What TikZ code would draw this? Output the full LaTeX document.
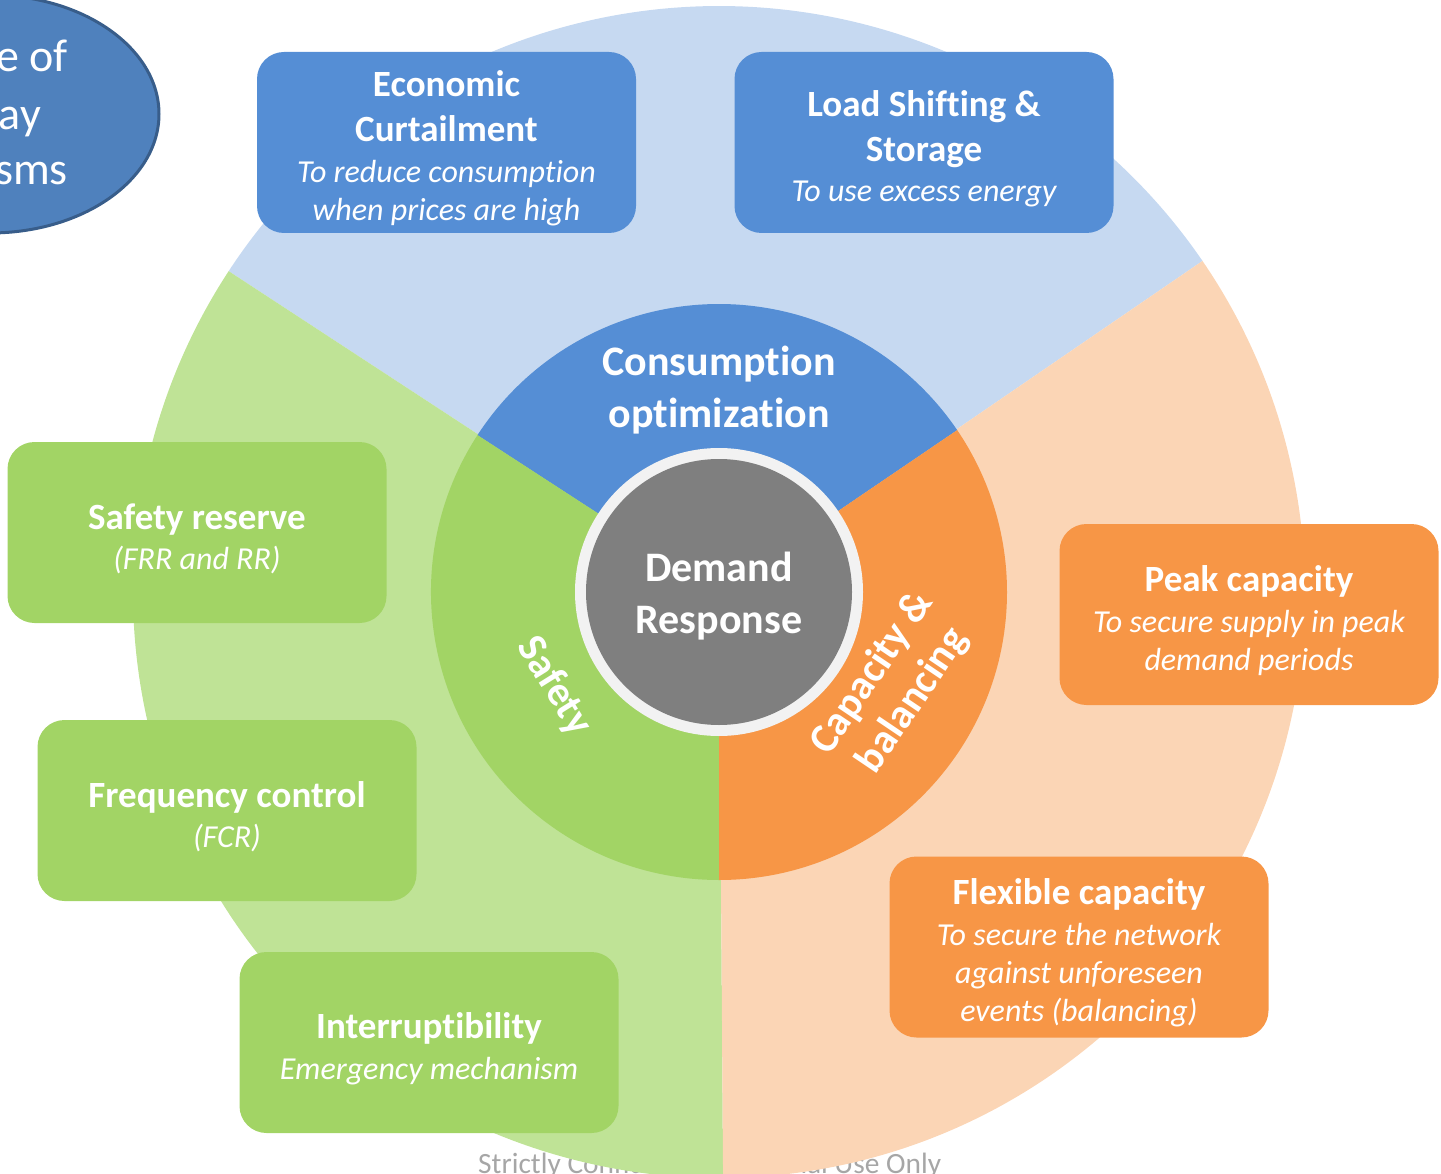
\documentclass[tikz,border=0pt]{standalone}
\usepackage{fontspec}
\setmainfont{Carlito}[Ligatures=NoCommon]

\definecolor{skyLight}{HTML}{C6D9F1}
\definecolor{skyMid}{HTML}{558ED5}
\definecolor{leafLight}{HTML}{BFE396}
\definecolor{leafMid}{HTML}{A2D465}
\definecolor{sunLight}{HTML}{FBD5B5}
\definecolor{sunMid}{HTML}{F79646}
\definecolor{hubGray}{HTML}{7F7F7F}
\definecolor{hubRing}{HTML}{F2F2F2}
\definecolor{ovalFill}{HTML}{4F81BD}
\definecolor{ovalEdge}{HTML}{385D8A}
\definecolor{footGray}{HTML}{A6A6A6}

% bold line of a card; the first one carries a taller strut
\newcommand\cardtitle[1]{{\normalfont\bfseries\fontsize{37}{38}\selectfont #1}}
\newcommand\cardhead[1]{{\normalfont\bfseries\fontsize{37}{38}\selectfont\rule{0pt}{38pt}#1}}

\begin{document}
\begin{tikzpicture}[x=1pt,y=1pt,
  card/.style={rounded corners=27pt, minimum width=379pt, minimum height=181pt,
    inner sep=0pt, text=white, align=center,
    font=\fontsize{32}{38}\selectfont\itshape},
  bluecard/.style={card, fill=skyMid},
  greencard/.style={card, fill=leafMid},
  orangecard/.style={card, fill=sunMid},
  hublabel/.style={text=white, align=center, inner sep=0pt,
    font=\bfseries\fontsize{42}{52}\selectfont},
  sectorlabel/.style={text=white, align=center, inner sep=0pt,
    font=\bfseries\fontsize{41.5}{49}\selectfont},
  ovaltext/.style={text=white, anchor=base east, inner sep=0pt,
    font=\fontsize{46}{56}\selectfont},
  footer/.style={text=footGray, anchor=base west, inner sep=0pt,
    font=\fontsize{29.4}{35}\selectfont},
]
\useasboundingbox (0,0) rectangle (1441,-1174);

% footer line, partly hidden behind the wheel
\node[footer] (foot) at (478,-1173) {Strictly Confidential - Internal Use Only};

% title oval in the upper left corner
\draw[fill=ovalFill, draw=ovalEdge, line width=3pt] (-10,-114) ellipse [x radius=169pt, y radius=119pt];
\node[ovaltext] (ov1) at (68,-72) {e of};
\node[ovaltext] (ov2) at (41,-130) {ay};
\node[ovaltext] (ov3) at (68,-185) {sms};

% the wheel
\begin{scope}[shift={(719,-592)}]
  % outer light sectors
  \fill[skyLight] (0,0) -- (34.4:586) arc[start angle=34.4, end angle=146.8, radius=586pt] -- cycle;
  \fill[leafLight] (0,0) -- (146.8:586) arc[start angle=146.8, end angle=270.4, radius=586pt] -- cycle;
  \fill[sunLight] (0,0) -- (270.4:586) arc[start angle=270.4, end angle=394.4, radius=586pt] -- cycle;
  % middle sectors
  \fill[skyMid] (0,0) -- (34.2:288) arc[start angle=34.2, end angle=147, radius=288pt] -- cycle;
  \fill[leafMid] (0,0) -- (147:288) arc[start angle=147, end angle=270, radius=288pt] -- cycle;
  \fill[sunMid] (0,0) -- (270:288) arc[start angle=270, end angle=394.2, radius=288pt] -- cycle;
  % hub
  \fill[hubRing] (0,0) circle[radius=144pt];
  \fill[hubGray] (0,0) circle[radius=133pt];
  \node[hublabel] (hub) at (0,-4) {Demand\\Response};
  \node[hublabel] (cons) at (0,202) {Consumption\\optimization};
  \node[sectorlabel, rotate=-58] (safe) at (209.8:190) {Safety};
  \node[sectorlabel, rotate=56] (capb) at (-28.7:198) {Capacity \&\\balancing};
\end{scope}

% cards
\node[bluecard] (econ) at (446.5,-142.5)
  {\cardhead{Economic}\\[7pt]\cardtitle{Curtailment}\\[3pt]To reduce consumption\\when prices are high};
\node[bluecard] (load) at (924,-142.5)
  {\cardhead{Load Shifting \&}\\[7pt]\cardtitle{Storage}\\[2pt]To use excess energy};
\node[greencard] (srv) at (197,-532.5)
  {\cardhead{Safety reserve}\\[2.5pt](FRR and RR)};
\node[greencard] (freq) at (227,-810.5)
  {\cardhead{Frequency control}\\[2.5pt](FCR)};
\node[greencard] (intr) at (429,-1042.5)
  {\cardhead{Interruptibility}\\[2.5pt]Emergency mechanism};
\node[orangecard] (peak) at (1249,-614.5)
  {\cardhead{Peak capacity}\\[2.5pt]To secure supply in peak\\demand periods};
\node[orangecard] (flex) at (1079,-947)
  {\cardhead{Flexible capacity}\\[3pt]To secure the network\\against unforeseen\\events (balancing)};
\end{tikzpicture}
\end{document}
